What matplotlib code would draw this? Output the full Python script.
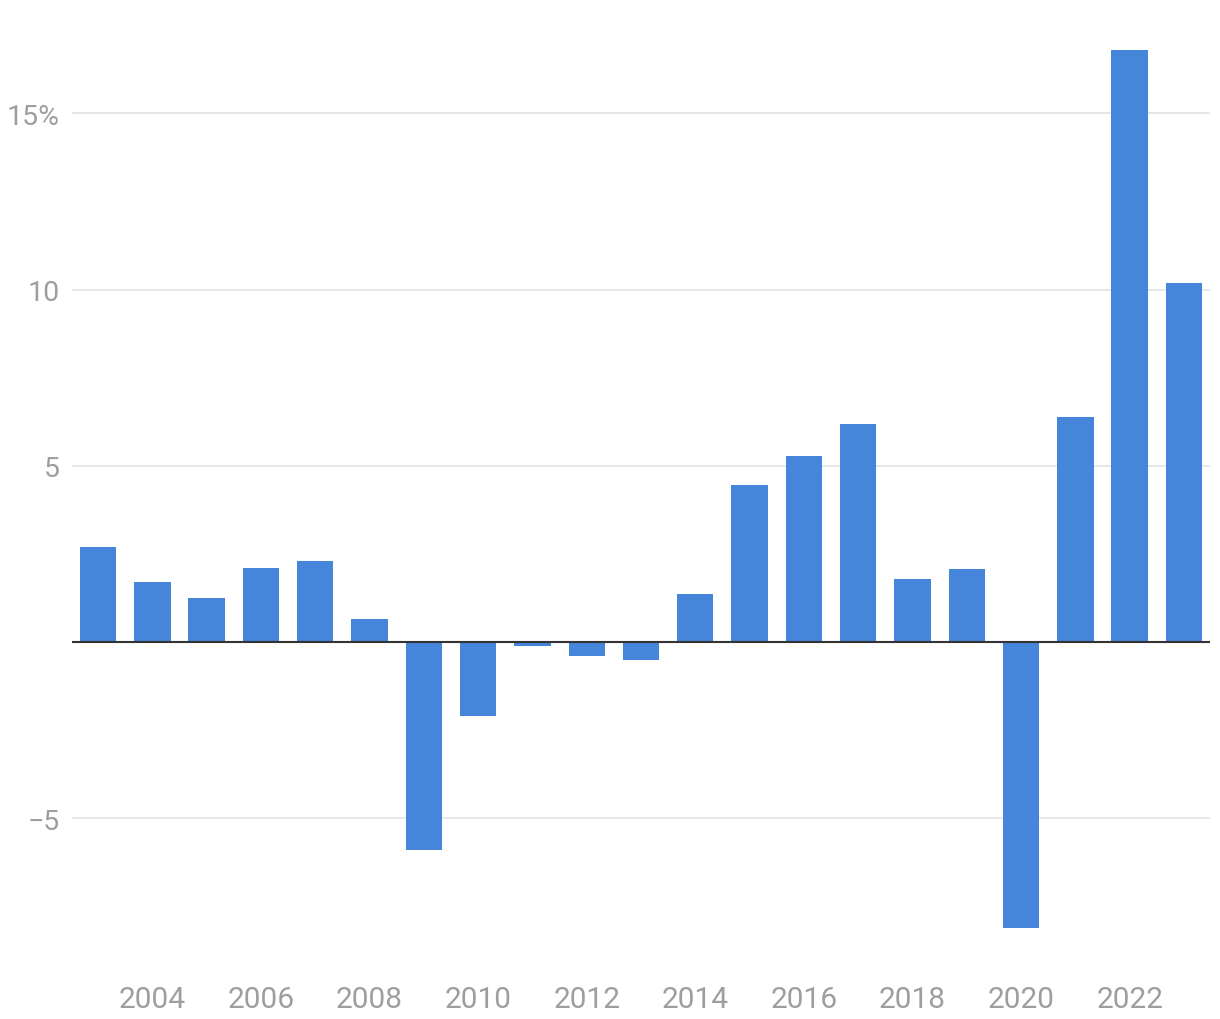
import numpy as np
import matplotlib.pyplot as plt

years = np.arange(2003, 2024)
values = [2.7, 1.7, 1.25, 2.1, 2.3, 0.65, -5.9, -2.1, -0.12, -0.4, -0.52,
          1.37, 4.47, 5.27, 6.18, 1.78, 2.08, -8.12, 6.38, 16.8, 10.2]
yticks = [-5, 0, 5, 10, 15]
ylabels = ['\u22125', '', '5', '10', '15%']
xticks = list(range(2004, 2024, 2))

plt.rcParams['font.family'] = ['Roboto', 'DejaVu Sans']

fig = plt.figure(figsize=(12.2, 10.2), dpi=100)
ax = fig.add_axes([72/1220, 68.5/1020, (1210-72)/1220, 920/1020])

ax.bar(years, values, width=0.67, color='#4585da', zorder=2)
ax.axhline(0, color='#333333', lw=1.5, zorder=3)

ax.set_xlim(2002.52, 2023.48)
ax.set_ylim(-8.75, 17.35)
ax.set_yticks(yticks)
ax.set_yticklabels(ylabels)
ax.set_xticks(xticks)
ax.set_xticklabels([str(x) for x in xticks])
ax.yaxis.grid(True, color='#e3e3e3', lw=1.2, zorder=0)
ax.tick_params(axis='y', length=0, labelsize=20.5, labelcolor='#9e9e9e', pad=9)
ax.tick_params(axis='x', length=0, labelsize=21.5, labelcolor='#9e9e9e', pad=25)
for s in ax.spines.values():
    s.set_visible(False)

fig.savefig('out.png', dpi=100)
